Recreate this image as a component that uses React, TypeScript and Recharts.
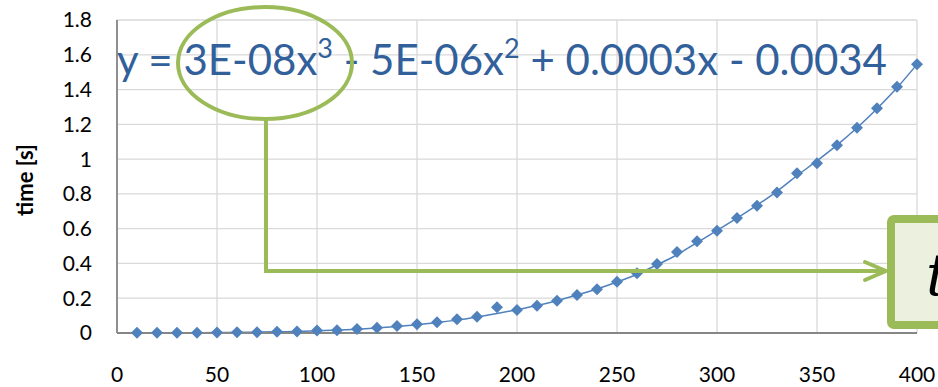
import React from "react";
import {
  ComposedChart,
  Line,
  Scatter,
  XAxis,
  YAxis,
  CartesianGrid,
} from "recharts";

if (typeof document !== "undefined") document.body.style.margin = "0";

// sizes in samples
const sizes = [
  10, 20, 30, 40, 50, 60, 70, 80, 90, 100, 110, 120, 130, 140, 150, 160, 170, 180, 190, 200,
  210, 220, 230, 240, 250, 260, 270, 280, 290, 300, 310, 320, 330, 340, 350, 360, 370, 380, 390, 400,
];
// measured time [s]
const times = [
  0.001, 0.001, 0.002, 0.002, 0.003, 0.004, 0.005, 0.007, 0.009, 0.015, 0.016, 0.023, 0.03, 0.04,
  0.05, 0.062, 0.079, 0.094, 0.148, 0.132, 0.157, 0.186, 0.218, 0.251, 0.295, 0.343, 0.397, 0.466,
  0.527, 0.588, 0.661, 0.732, 0.808, 0.918, 0.976, 1.079, 1.181, 1.292, 1.416, 1.545,
];
// trendline as drawn (same as points except where the marker sits off the curve)
const trend = [
  0.001, 0.001, 0.002, 0.002, 0.003, 0.004, 0.005, 0.007, 0.009, 0.013, 0.017, 0.022, 0.029, 0.037,
  0.047, 0.06, 0.074, 0.092, 0.112, 0.134, 0.158, 0.186, 0.218, 0.253, 0.293, 0.338, 0.392, 0.45,
  0.52, 0.59, 0.66, 0.735, 0.815, 0.905, 0.99, 1.08, 1.18, 1.29, 1.41, 1.545,
];
const xTicks = [0, 50, 100, 150, 200, 250, 300, 350, 400];
const yTicks = [0, 0.2, 0.4, 0.6, 0.8, 1, 1.2, 1.4, 1.6, 1.8];

const rows = sizes.map((x, i) => ({ x, time: times[i], trend: trend[i] }));

const BLUE = "#4f81bd";
const GREEN = "#9bbb59";
const FONT = "Lato, 'Open Sans', sans-serif";

const Diamond = (props: any) => {
  const { cx, cy } = props;
  if (cx == null || cy == null) return null;
  const r = 6;
  return (
    <polygon
      points={`${cx},${cy - r} ${cx + r},${cy} ${cx},${cy + r} ${cx - r},${cy}`}
      fill={BLUE}
    />
  );
};

export default function App() {
  return (
    <div style={{ position: "relative", width: 938, height: 387, overflow: "hidden", background: "#fff" }}>
      <ComposedChart
        width={938}
        height={387}
        data={rows}
        margin={{ top: 20, right: 21, left: 0, bottom: 0 }}
      >
        <CartesianGrid stroke="#d9d9d9" strokeWidth={1.3} />
        <XAxis
          dataKey="x"
          type="number"
          domain={[0, 400]}
          ticks={xTicks}
          height={54}
          tickLine={false}
          tickMargin={28}
          axisLine={{ stroke: "#868686", strokeWidth: 1.8 }}
          tick={{ fill: "#000", fontSize: 21, fontFamily: FONT }}
        />
        <YAxis
          type="number"
          domain={[0, 1.8]}
          ticks={yTicks}
          width={117}
          tickLine={false}
          tickMargin={19}
          axisLine={{ stroke: "#868686", strokeWidth: 1.8 }}
          tick={{ fill: "#000", fontSize: 21, fontFamily: FONT }}
          tickFormatter={(v: number) => String(Number(v.toFixed(1)))}
        />
        <Line
          dataKey="trend"
          type="monotone"
          stroke={BLUE}
          strokeWidth={1.5}
          dot={false}
          isAnimationActive={false}
        />
        <Scatter dataKey="time" fill={BLUE} shape={<Diamond />} isAnimationActive={false} />
      </ComposedChart>

      <svg
        width={938}
        height={387}
        style={{ position: "absolute", left: 0, top: 0, pointerEvents: "none" }}
      >
        {/* axis title */}
        <text
          x={0}
          y={0}
          transform="translate(33,180) rotate(-90)"
          textAnchor="middle"
          fontSize={22}
          fontWeight={700}
          fontFamily={FONT}
          fill="#000"
        >
          time [s]
        </text>
        {/* trendline equation */}
        <text x={117} y={75} fill="#31609b" fontSize={42} fontFamily={FONT}>
          y = 3E-08x<tspan fontSize={27} dy={-17}>3</tspan>
          <tspan dy={17}> - 5E-06x</tspan>
          <tspan fontSize={27} dy={-17}>2</tspan>
          <tspan dy={17}> + 0.0003x - 0.0034</tspan>
        </text>
        <ellipse cx={265} cy={63} rx={87} ry={56} fill="none" stroke={GREEN} strokeWidth={4} />
        <polyline
          points="266,120 266,271 885,271"
          fill="none"
          stroke={GREEN}
          strokeWidth={4}
        />
        <polyline
          points="865,262 886,271 865,280"
          fill="none"
          stroke={GREEN}
          strokeWidth={4}
          strokeLinecap="round"
          strokeLinejoin="round"
        />
        <rect x={891} y={219} width={80} height={106} rx={3} fill="#ebf1de" stroke={GREEN} strokeWidth={8} />
        <text
          x={926}
          y={295}
          fontSize={58}
          fontStyle="italic"
          fontFamily="'DejaVu Serif', 'Liberation Serif', serif"
          fill="#000"
        >
          t
        </text>
      </svg>
    </div>
  );
}
